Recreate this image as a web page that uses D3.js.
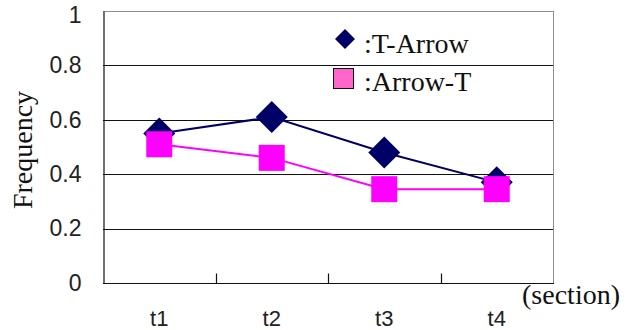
<!DOCTYPE html>
<html>
<head>
<meta charset="utf-8">
<script src="https://cdn.jsdelivr.net/npm/d3@7"></script>
<style>
  html, body { margin: 0; padding: 0; background: #fff; }
  svg { display: block; }
  .serif { font-family: "Liberation Serif", "DejaVu Serif", "Times New Roman", serif; }
  .sans { font-family: "Liberation Sans", "DejaVu Sans", Arial, sans-serif; }
</style>
</head>
<body>
<svg id="chart" width="631" height="330"></svg>
<script>
// Sections along the x axis
const sections = ["t1", "t2", "t3", "t4"];
// Frequency per section for each ordering
const tArrow = [0.55, 0.61, 0.48, 0.37];
const arrowT = [0.51, 0.46, 0.345, 0.345];
// Y axis ticks and their labels
const yTicks = [0, 0.2, 0.4, 0.6, 0.8, 1];
const yTickLabels = ["0", "0.2", "0.4", "0.6", "0.8", "1"];
const seriesNames = [":T-Arrow", ":Arrow-T"];

const svg = d3.select("#chart");
const plotLeft = 103, plotRight = 553, plotTop = 11, plotBottom = 283;

const x = d3.scaleBand().domain(sections).range([plotLeft, plotRight]);
const y = d3.scaleLinear().domain([0, 1]).range([plotBottom, plotTop]);

// Horizontal gridlines
svg.append("g")
  .selectAll("line")
  .data(yTicks.filter(v => v > 0 && v < 1))
  .join("line")
  .attr("x1", plotLeft).attr("x2", plotRight)
  .attr("y1", d => Math.round(y(d)) + 0.5).attr("y2", d => Math.round(y(d)) + 0.5)
  .attr("stroke", "#111").attr("stroke-width", 1);

// Plot frame: light top/right edges
svg.append("line")
  .attr("x1", plotLeft).attr("x2", plotRight)
  .attr("y1", y(1) + 0.5).attr("y2", y(1) + 0.5)
  .attr("stroke", "#8c8c8c").attr("stroke-width", 1);
svg.append("line")
  .attr("x1", plotRight + 0.5).attr("x2", plotRight + 0.5)
  .attr("y1", y(1)).attr("y2", y(0))
  .attr("stroke", "#8c8c8c").attr("stroke-width", 1);

// Y axis
const yAxis = d3.axisLeft(y)
  .tickValues(yTicks)
  .tickFormat((d, i) => yTickLabels[i])
  .tickSize(0)
  .tickPadding(22);
const gy = svg.append("g")
  .attr("transform", `translate(${plotLeft + 0.5},0)`)
  .call(yAxis);
gy.attr("font-family", null).attr("font-size", null);
gy.select(".domain").attr("stroke", "#111").attr("stroke-width", 1.2);
gy.selectAll("text")
  .attr("class", "sans")
  .attr("font-size", 23)
  .attr("fill", "#222")
  .attr("dy", (d, i) => i === yTicks.length - 1 ? "0.5em" : "0.32em");

// X axis: boundaries between sections marked with inward ticks
const gx = svg.append("g")
  .attr("transform", `translate(0,${plotBottom + 0.5})`);
gx.append("line")
  .attr("x1", plotLeft).attr("x2", plotRight + 1)
  .attr("stroke", "#111").attr("stroke-width", 1.2);
gx.selectAll("line.tick")
  .data(sections.slice(1))
  .join("line")
  .attr("class", "tick")
  .attr("x1", d => Math.round(x(d)) + 0.5).attr("x2", d => Math.round(x(d)) + 0.5)
  .attr("y1", 0).attr("y2", -10)
  .attr("stroke", "#111").attr("stroke-width", 1.2);
gx.selectAll("text")
  .data(sections)
  .join("text")
  .attr("class", "sans")
  .attr("x", d => x(d) + x.bandwidth() / 2)
  .attr("y", 42)
  .attr("text-anchor", "middle")
  .attr("font-size", 22)
  .attr("fill", "#222")
  .text(d => d);

// Axis titles
svg.append("text")
  .attr("class", "serif")
  .attr("transform", `translate(32,150) rotate(-90)`)
  .attr("text-anchor", "middle")
  .attr("font-size", 28)
  .attr("fill", "#111")
  .text("Frequency");
svg.append("text")
  .attr("class", "serif")
  .attr("x", 620).attr("y", 304)
  .attr("text-anchor", "end")
  .attr("font-size", 28)
  .attr("fill", "#111")
  .text("(section)");

const cx = d => x(d) + x.bandwidth() / 2;
const line = d3.line().x(d => cx(d.s)).y(d => y(d.v));

const navy = "#000066";
const magenta = "#ff00ff";

// T-Arrow series
const tData = sections.map((s, i) => ({ s, v: tArrow[i] }));
svg.append("path")
  .datum(tData)
  .attr("d", line)
  .attr("fill", "none").attr("stroke", navy).attr("stroke-width", 2);
const diamond = r => `M0,${-r}L${r},0L0,${r}L${-r},0Z`;
svg.append("g").selectAll("path")
  .data(tData)
  .join("path")
  .attr("transform", d => `translate(${cx(d.s)},${y(d.v)})`)
  .attr("d", diamond(16))
  .attr("fill", navy);

// Arrow-T series
const aData = sections.map((s, i) => ({ s, v: arrowT[i] }));
svg.append("path")
  .datum(aData)
  .attr("d", line)
  .attr("fill", "none").attr("stroke", magenta).attr("stroke-width", 2);
svg.append("g").selectAll("rect")
  .data(aData)
  .join("rect")
  .attr("x", d => cx(d.s) - 13).attr("y", d => y(d.v) - 13)
  .attr("width", 26).attr("height", 26)
  .attr("fill", magenta);

// Legend
const lg = svg.append("g");
lg.append("path")
  .attr("transform", "translate(345,39)")
  .attr("d", diamond(10))
  .attr("fill", navy);
lg.append("rect")
  .attr("x", 333.5).attr("y", 68.5)
  .attr("width", 20).attr("height", 20)
  .attr("fill", "#ff66cc").attr("stroke", "#111").attr("stroke-width", 1);
lg.selectAll("text")
  .data(seriesNames)
  .join("text")
  .attr("class", "serif")
  .attr("x", 364)
  .attr("y", (d, i) => i === 0 ? 53 : 91)
  .attr("font-size", 28)
  .attr("fill", "#111")
  .text(d => d);
</script>
</body>
</html>
